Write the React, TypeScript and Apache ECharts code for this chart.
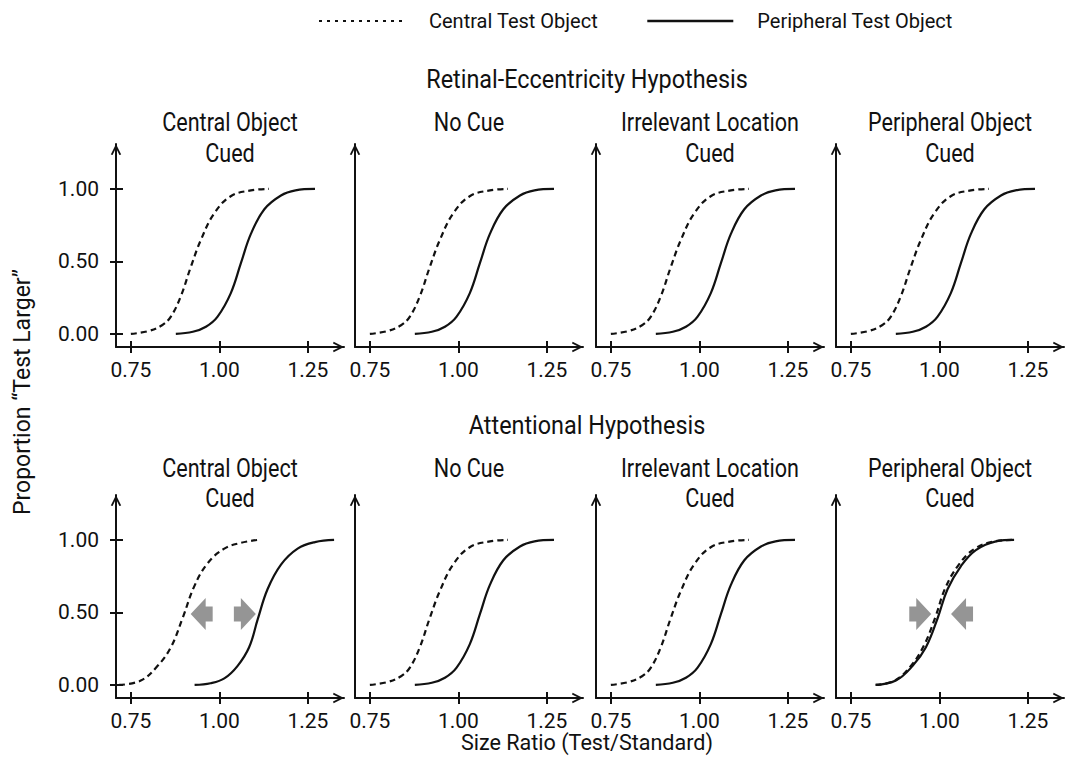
import React, { useEffect, useRef } from 'react';
import * as echarts from 'echarts';

const FONT = "Roboto, 'Liberation Sans', sans-serif";
const INK = '#111111';

const xTicks = [0.75, 1.0, 1.25];
const yTicks = [0, 0.5, 1.0];
const rowTitles = ['Retinal-Eccentricity Hypothesis', 'Attentional Hypothesis'];
const panelTitles = [['Central Object', 'Cued'], ['No Cue'], ['Irrelevant Location', 'Cued'], ['Peripheral Object', 'Cued']];
const legendNames = ['Central Test Object', 'Peripheral Test Object'];
const xName = 'Size Ratio (Test/Standard)';
const yName = 'Proportion \u201CTest Larger\u201D';

// psychometric curves: [size ratio, proportion]
const centralBaseline = [[0.75, 0], [0.8, 0.02], [0.838, 0.06], [0.863, 0.12], [0.891, 0.26], [0.919, 0.46], [0.948, 0.65], [0.985, 0.83], [1.032, 0.95], [1.089, 0.99], [1.14, 1.0]];
const peripheralBaseline = [[0.877, 0], [0.925, 0.015], [0.962, 0.05], [0.995, 0.12], [1.032, 0.28], [1.061, 0.49], [1.089, 0.69], [1.127, 0.86], [1.174, 0.955], [1.215, 0.99], [1.27, 1.0]];
const centralCentralCued = [[0.717, 0], [0.778, 0.03], [0.825, 0.13], [0.863, 0.26], [0.896, 0.46], [0.929, 0.68], [0.967, 0.84], [1.014, 0.94], [1.061, 0.98], [1.108, 1.0]];
const peripheralCentralCued = [[0.93, 0], [0.975, 0.012], [1.014, 0.045], [1.051, 0.13], [1.084, 0.26], [1.108, 0.45], [1.136, 0.66], [1.174, 0.83], [1.221, 0.94], [1.27, 0.985], [1.324, 1.0]];
const centralPeripheralCued = [[0.82, 0], [0.874, 0.03], [0.919, 0.13], [0.956, 0.27], [0.989, 0.47], [1.017, 0.67], [1.055, 0.83], [1.1, 0.94], [1.155, 0.99], [1.207, 1.0]];
const peripheralPeripheralCued = [[0.82, 0], [0.877, 0.03], [0.924, 0.13], [0.962, 0.26], [0.995, 0.46], [1.023, 0.66], [1.061, 0.82], [1.103, 0.93], [1.16, 0.99], [1.211, 1.0]];

// shift arrows (attentional hypothesis): [x, y]
const arrowsLeftCentralCued = [[0.95, 0.49]];
const arrowsRightCentralCued = [[1.072, 0.49]];
const arrowsRightPeripheralCued = [[0.946, 0.49]];
const arrowsLeftPeripheralCued = [[1.064, 0.49]];

const X_MIN = 0.708;
const X_MAX = 1.352;
const Y_MIN = -0.09;
const Y_MAX = 1.31;

const COL_LEFT = [116, 355, 596, 836];
const ROW_TOP = [144, 495];
const GRID_W = 228;
const GRID_H = 203;

const CHEVRON = 'path://M0,10 L5,0 L10,10 L8.3,10.6 L5,3.8 L1.7,10.6 Z';
const ARROW_LEFT = 'path://M0,16 L15,0 L15,8.5 L22,8.5 L22,23.5 L15,23.5 L15,32 Z';
const ARROW_RIGHT = 'path://M22,16 L7,0 L7,8.5 L0,8.5 L0,23.5 L7,23.5 L7,32 Z';

function panelCurves(r: number, c: number) {
  if (r === 1 && c === 0) return [centralCentralCued, peripheralCentralCued];
  if (r === 1 && c === 3) return [centralPeripheralCued, peripheralPeripheralCued];
  return [centralBaseline, peripheralBaseline];
}

function headText(text: string, x: number, y: number, size: number, sx: number, rotation = 0) {
  return {
    type: 'text', x, y, rotation, scaleX: sx, silent: true,
    style: { text, fill: INK, font: `${size}px ${FONT}`, textAlign: 'center', textVerticalAlign: 'middle' },
  };
}

function buildOption() {
  const grid: any[] = [];
  const xAxis: any[] = [];
  const yAxis: any[] = [];
  const series: any[] = [];
  const graphic: any[] = [];
  const tickLine = { color: INK, width: 2 };
  const fmt = (v: number) => v.toFixed(2);

  for (let r = 0; r < 2; r++) {
    for (let c = 0; c < 4; c++) {
      const i = r * 4 + c;
      grid.push({ left: COL_LEFT[c], top: ROW_TOP[r], width: GRID_W, height: GRID_H, containLabel: false });
      xAxis.push({
        gridIndex: i, type: 'value', min: X_MIN, max: X_MAX, position: 'bottom',
        axisLine: { show: true, onZero: false, lineStyle: { color: INK, width: 2 }, symbol: ['none', CHEVRON], symbolSize: [11, 11], symbolOffset: [0, -5.5] },
        axisTick: { show: true, inside: false, length: 6, customValues: xTicks, lineStyle: tickLine },
        axisLabel: { show: true, customValues: xTicks, formatter: fmt, margin: 12, color: INK, fontSize: 21, fontFamily: FONT },
        splitLine: { show: false },
      });
      yAxis.push({
        gridIndex: i, type: 'value', min: Y_MIN, max: Y_MAX, position: 'left',
        axisLine: { show: true, onZero: false, lineStyle: { color: INK, width: 2 }, symbol: ['none', CHEVRON], symbolSize: [11, 11], symbolOffset: [0, -5.5] },
        axisTick: { show: c === 0, inside: false, length: 6, customValues: yTicks, lineStyle: tickLine },
        axisLabel: { show: c === 0, customValues: yTicks, formatter: fmt, margin: 17, color: INK, fontSize: 21, fontFamily: FONT },
        splitLine: { show: false },
      });
      const [cen, per] = panelCurves(r, c);
      series.push({
        type: 'line', name: legendNames[0], xAxisIndex: i, yAxisIndex: i, data: cen, smooth: 0.4,
        symbol: 'none', silent: true, z: 3,
        lineStyle: { color: INK, width: 2.2, type: [6, 4] },
      });
      series.push({
        type: 'line', name: legendNames[1], xAxisIndex: i, yAxisIndex: i, data: per, smooth: 0.4,
        symbol: 'none', silent: true, z: 2,
        lineStyle: { color: INK, width: 2.2, type: 'solid' },
      });
      const arrowSets: any[] = [];
      if (r === 1 && c === 0) arrowSets.push([arrowsLeftCentralCued, ARROW_LEFT], [arrowsRightCentralCued, ARROW_RIGHT]);
      if (r === 1 && c === 3) arrowSets.push([arrowsRightPeripheralCued, ARROW_RIGHT], [arrowsLeftPeripheralCued, ARROW_LEFT]);
      arrowSets.forEach(([d, sym]) => {
        series.push({
          type: 'scatter', xAxisIndex: i, yAxisIndex: i, data: d, symbol: sym, symbolSize: [22, 32],
          itemStyle: { color: '#7b7b7b' }, silent: true, z: 4,
        });
      });
    }
  }
  // overlay grids: inner halves of the crossing ticks
  for (let r = 0; r < 2; r++) {
    for (let c = 0; c < 4; c++) {
      const i = 8 + r * 4 + c;
      grid.push({ left: COL_LEFT[c], top: ROW_TOP[r], width: GRID_W, height: GRID_H, containLabel: false });
      xAxis.push({
        gridIndex: i, type: 'value', min: X_MIN, max: X_MAX, position: 'bottom',
        axisLine: { show: false, onZero: false },
        axisTick: { show: true, inside: true, length: 6, customValues: xTicks, lineStyle: tickLine },
        axisLabel: { show: false },
        splitLine: { show: false },
      });
      yAxis.push({
        gridIndex: i, type: 'value', min: Y_MIN, max: Y_MAX, position: 'left',
        axisLine: { show: false, onZero: false },
        axisTick: { show: c === 0, inside: true, length: 7, customValues: yTicks, lineStyle: tickLine },
        axisLabel: { show: false },
        splitLine: { show: false },
      });
    }
  }

  const centerX = (COL_LEFT[0] + COL_LEFT[3] + GRID_W) / 2 - 3;
  const rowTitleY = [79, 425];
  const panelLineY = [[122, 153], [468, 498]];
  rowTitles.forEach((t, r) => {
    graphic.push(headText(t, centerX, rowTitleY[r], 26, 0.9));
    panelTitles.forEach((lines, c) => {
      lines.forEach((ln, k) => graphic.push(headText(ln, COL_LEFT[c] + GRID_W / 2, panelLineY[r][k], 26, 0.83)));
    });
  });
  graphic.push(headText(xName, centerX, 742, 22, 0.98));
  graphic.push(headText(yName, 22, 392, 23, 1.0, Math.PI / 2));

  return {
    animation: false,
    backgroundColor: '#ffffff',
    legend: {
      left: 313, top: 6, itemWidth: 86, itemHeight: 14, itemGap: 48,
      textStyle: { color: INK, fontSize: 20, fontFamily: FONT, padding: [0, 0, 0, 19] },
      itemStyle: { opacity: 0 },
      data: [
        { name: legendNames[0], lineStyle: { color: INK, width: 2, type: [3, 5] } },
        { name: legendNames[1], lineStyle: { color: INK, width: 2.4, type: 'solid' } },
      ],
      selectedMode: false,
    },
    grid, xAxis, yAxis, series, graphic,
  };
}

export default function App() {
  const ref = useRef<HTMLDivElement>(null);
  useEffect(() => {
    if (!ref.current) return;
    const chart = echarts.init(ref.current, undefined, { renderer: 'svg' });
    chart.setOption(buildOption() as any);
    return () => chart.dispose();
  }, []);
  return <div ref={ref} style={{ position: 'fixed', left: 0, top: 0, width: 1072, height: 774, background: '#fff' }} />;
}
